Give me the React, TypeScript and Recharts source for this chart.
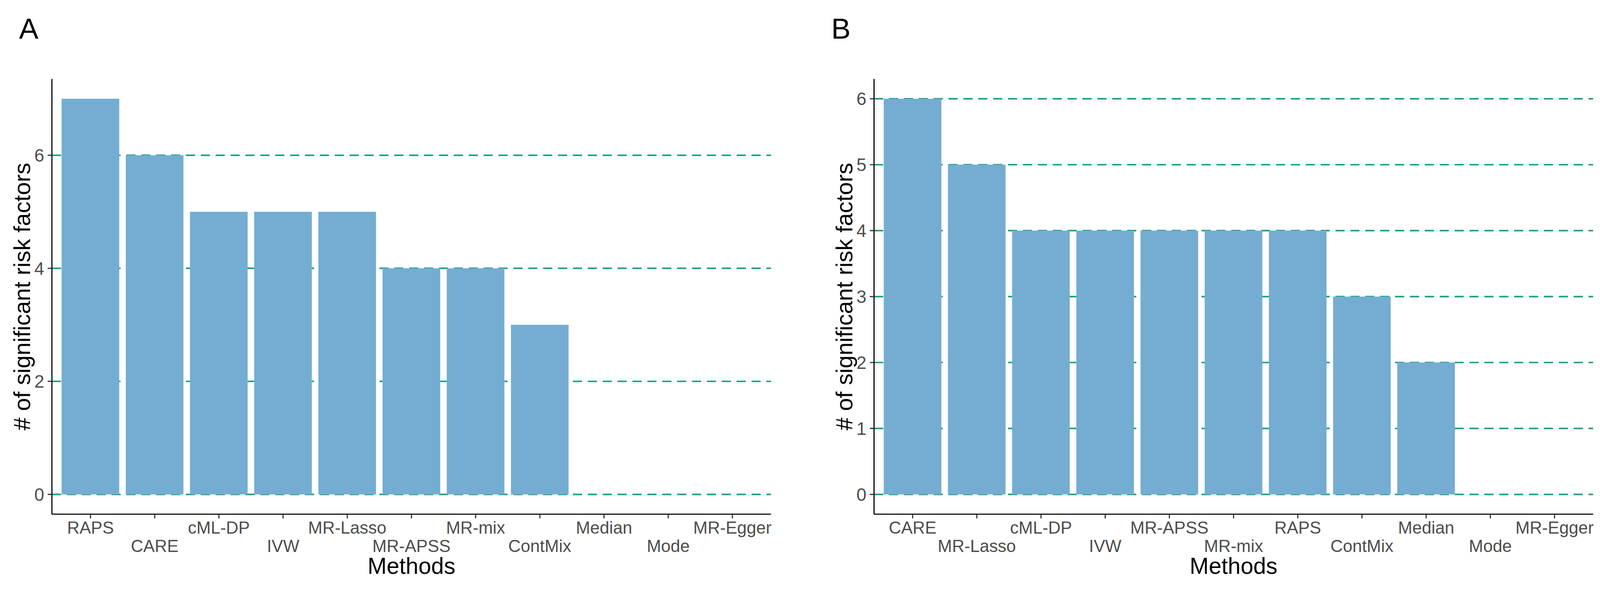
import { BarChart, Bar, XAxis, YAxis, CartesianGrid, Label } from 'recharts'

const methodsA = ['RAPS', 'CARE', 'cML-DP', 'IVW', 'MR-Lasso', 'MR-APSS', 'MR-mix', 'ContMix', 'Median', 'Mode', 'MR-Egger']
const countsA = [7, 6, 5, 5, 5, 4, 4, 3, 0, 0, 0]
const ticksA = [0, 2, 4, 6]

const methodsB = ['CARE', 'MR-Lasso', 'cML-DP', 'IVW', 'MR-APSS', 'MR-mix', 'RAPS', 'ContMix', 'Median', 'Mode', 'MR-Egger']
const countsB = [6, 5, 4, 4, 4, 4, 4, 3, 2, 0, 0]
const ticksB = [0, 1, 2, 3, 4, 5, 6]

const BAR_FILL = '#74ADD1'
const GRID_STROKE = '#18A07E'
const FONT = '"Liberation Sans", Arial, Helvetica, sans-serif'
const TICK_COLOR = '#4D4D4D'

const PAGE_W = 4192
const CHART_H = 1537
const MARGIN = { top: 207, right: 0, bottom: 69, left: 0 }

// ggplot style: two rows of labels (n.dodge = 2)
function DodgedTick(props: any) {
  const { x, y, payload, index } = props
  const shift = index % 2 === 1 ? 48 : 0
  return (
    <text
      x={x}
      y={y + shift}
      dy="0.71em"
      textAnchor="middle"
      fill={TICK_COLOR}
      fontSize={45}
      fontFamily={FONT}
    >
      {payload.value}
    </text>
  )
}

function Panel({
  methods,
  counts,
  ticks,
  domain,
  width,
  right,
}: {
  methods: string[]
  counts: number[]
  ticks: number[]
  domain: [number, number]
  width: number
  right: number
}) {
  const data = methods.map((m, i) => ({ method: m, count: counts[i] }))
  return (
    <BarChart
      width={width}
      height={CHART_H}
      data={data}
      margin={{ ...MARGIN, right }}
      barCategoryGap="5%"
    >
      <CartesianGrid
        vertical={false}
        horizontalValues={ticks}
        stroke={GRID_STROKE}
        strokeWidth={4}
        strokeDasharray="24 15"
      />
      <XAxis
        dataKey="method"
        interval={0}
        height={120}
        padding={{ left: 17, right: 17 }}
        tickSize={11}
        tickMargin={8}
        axisLine={{ stroke: '#000', strokeWidth: 3 }}
        tickLine={{ stroke: '#333', strokeWidth: 3 }}
        tick={<DodgedTick />}
      >
        <Label
          content={(p: any) => {
            const vb = p.viewBox || {}
            return (
              <text
                x={vb.x + vb.width / 2}
                y={1483}
                textAnchor="middle"
                dominantBaseline="central"
                fontSize={60}
                fontFamily={FONT}
                fill="#000"
              >
                Methods
              </text>
            )
          }}
        />
      </XAxis>
      <YAxis
        type="number"
        domain={domain}
        ticks={ticks}
        interval={0}
        allowDataOverflow
        width={136}
        tickSize={11}
        tickMargin={9}
        axisLine={{ stroke: '#000', strokeWidth: 3 }}
        tickLine={{ stroke: '#333', strokeWidth: 3 }}
        tick={{ fill: TICK_COLOR, fontSize: 47, fontFamily: FONT }}
      >
        <Label
          content={(p: any) => {
            const vb = p.viewBox || {}
            const cx = vb.x + 58
            const cy = vb.y + vb.height / 2
            return (
              <text
                x={cx}
                y={cy}
                transform={`rotate(-90 ${cx} ${cy})`}
                textAnchor="middle"
                dominantBaseline="central"
                fontSize={61}
                fontFamily={FONT}
                fill="#000"
              >
                # of significant risk factors
              </text>
            )
          }}
        />
      </YAxis>
      <Bar dataKey="count" fill={BAR_FILL} isAnimationActive={false} />
    </BarChart>
  )
}

const panelLabel = (text: string, left: number) => (
  <div
    style={{
      position: 'absolute',
      left,
      top: 37,
      fontFamily: FONT,
      fontSize: 76,
      lineHeight: '76px',
      color: '#000',
    }}
  >
    {text}
  </div>
)

export default function App() {
  // fit the fixed-size figure into the viewport the browser really has
  const vw = typeof window !== 'undefined' ? window.innerWidth : PAGE_W
  const s = vw > 0 ? vw / PAGE_W : 1

  return (
    <div
      style={{
        position: 'absolute',
        left: 0,
        top: 0,
        width: PAGE_W,
        height: CHART_H,
        background: '#fff',
        overflow: 'hidden',
        transform: `scale(${s})`,
        transformOrigin: '0 0',
      }}
    >
      <style>{'html,body{margin:0;overflow:hidden;}'}</style>
      <div style={{ position: 'absolute', left: 0, top: 0 }}>
        <Panel methods={methodsA} counts={countsA} ticks={ticksA} domain={[-0.35, 7.35]} width={2154} right={134} />
      </div>
      <div style={{ position: 'absolute', left: 2154, top: 0 }}>
        <Panel methods={methodsB} counts={countsB} ticks={ticksB} domain={[-0.3, 6.3]} width={2038} right={18} />
      </div>
      {panelLabel('A', 50)}
      {panelLabel('B', 2178)}
    </div>
  )
}
